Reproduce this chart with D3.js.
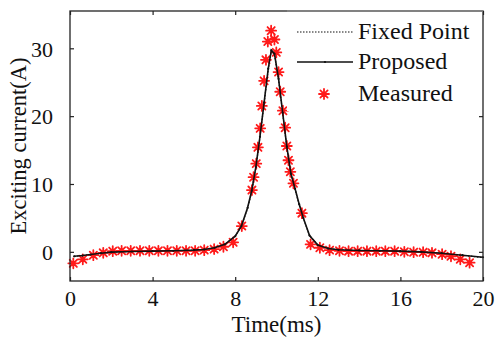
<!DOCTYPE html>
<html>
<head>
<meta charset="utf-8">
<script src="https://cdn.jsdelivr.net/npm/d3@7"></script>
<style>
  body { margin: 0; background: #fff; }
  text { font-family: "Liberation Serif", "Times New Roman", serif; fill: #111; }
</style>
</head>
<body>
<div id="chart"></div>
<script>
// measured samples (red asterisks)
const measuredTime = [0.16, 0.62, 1.13, 1.61, 2.07, 2.5, 2.94, 3.39, 3.84, 4.28, 4.72, 5.17, 5.62, 6.06,
  6.5, 6.98, 7.43, 7.9, 8.32, 8.81, 8.89, 9.02, 9.1, 9.21, 9.29, 9.4, 9.49, 9.58, 9.74, 9.9, 9.99,
  10.1, 10.18, 10.31, 10.42, 10.5, 10.58, 10.67, 10.82, 11.23, 11.65, 12.1, 12.57, 13.05, 13.49,
  13.93, 14.38, 14.83, 15.27, 15.72, 16.19, 16.64, 17.1, 17.53, 18.02, 18.45, 18.9, 19.35];
const measuredCurrent = [-1.7, -1.1, -0.5, -0.15, 0.1, 0.15, 0.15, 0.15, 0.15, 0.15, 0.15, 0.15, 0.15, 0.15,
  0.25, 0.4, 0.75, 1.4, 3.8, 9.1, 11.0, 13.0, 15.4, 18.2, 21.5, 25.2, 28.3, 31.0, 32.6, 31.3, 29.4,
  26.5, 23.6, 20.8, 18.3, 15.6, 13.5, 11.8, 10.1, 5.7, 1.1, 0.6, 0.25, 0.15, 0.1,
  0.1, 0.1, 0.1, 0.1, 0.1, 0.0, -0.05, -0.05, -0.15, -0.35, -0.65, -1.1, -1.6];

// model curves
const modelTime = [0.2, 0.6, 1.0, 1.5, 2.0, 3.0, 4.0, 5.0, 6.0, 6.5, 7.0, 7.5, 8.0, 8.3, 8.6, 8.8,
  9.0, 9.2, 9.4, 9.6, 9.75, 9.9, 10.1, 10.3, 10.5, 10.7, 10.9, 11.1, 11.3, 11.6, 12.0, 12.5,
  13.0, 14.0, 15.0, 16.0, 17.0, 18.0, 19.0, 20.0];
const proposedCurrent = [-0.65, -0.55, -0.4, -0.2, -0.05, 0.05, 0.1, 0.15, 0.25, 0.35, 0.6, 1.1, 2.3, 3.8, 6.5, 9.0,
  12.5, 17.0, 22.0, 27.0, 29.7, 29.2, 25.5, 20.5, 15.5, 11.5, 9.3, 7.0, 5.0, 2.4, 1.0, 0.5,
  0.3, 0.2, 0.15, 0.1, 0.0, -0.2, -0.5, -0.8];
const fixedPointCurrent = [-0.7, -0.55, -0.4, -0.2, -0.05, 0.05, 0.1, 0.15, 0.25, 0.35, 0.6, 1.1, 2.3, 3.8, 6.4, 8.9,
  12.4, 16.9, 21.9, 26.9, 29.6, 29.1, 25.4, 20.4, 15.4, 11.4, 9.2, 6.9, 5.0, 2.4, 1.0, 0.5,
  0.3, 0.2, 0.15, 0.1, 0.0, -0.2, -0.5, -0.85];

const xTicks = [0, 4, 8, 12, 16, 20];
const yTicks = [0, 10, 20, 30];
const legendLabels = ['Fixed Point', 'Proposed', 'Measured'];

const W = 495, H = 337;
const frame = { left: 70, right: 483, top: 11, bottom: 281 };

const svg = d3.select('#chart').append('svg')
  .attr('width', W)
  .attr('height', H);

const x = d3.scaleLinear().domain([0, 20]).range([frame.left, frame.right]);
const y = d3.scaleLinear().domain([-4.3, 35.5]).range([frame.bottom, frame.top]);

const starPath = 'M-5,0H5M0,-5V5M-3.6,-3.6L3.6,3.6M-3.6,3.6L3.6,-3.6';

// curves
const line = d3.line().x(d => x(d[0])).y(d => y(d[1]));
const fixedData = modelTime.map((t, i) => [t, fixedPointCurrent[i]]);
const propData = modelTime.map((t, i) => [t, proposedCurrent[i]]);
const measData = measuredTime.map((t, i) => [t, measuredCurrent[i]]);

svg.append('path')
  .datum(fixedData)
  .attr('d', line)
  .attr('fill', 'none')
  .attr('stroke', '#111')
  .attr('stroke-width', 1.2)
  .attr('stroke-dasharray', '1.5,1.5');

// measured stars
svg.append('g')
  .selectAll('path')
  .data(measData)
  .enter()
  .append('path')
  .attr('transform', d => `translate(${x(d[0])},${y(d[1])})`)
  .attr('d', starPath)
  .attr('stroke', '#ff1a1a')
  .attr('stroke-width', 1.8)
  .attr('stroke-linecap', 'round');

svg.append('path')
  .datum(propData)
  .attr('d', line)
  .attr('fill', 'none')
  .attr('stroke', '#111')
  .attr('stroke-width', 1.6);

svg.append('g')
  .selectAll('circle')
  .data(propData)
  .enter()
  .append('circle')
  .attr('cx', d => x(d[0]))
  .attr('cy', d => y(d[1]))
  .attr('r', 1.1)
  .attr('fill', '#111');

// axes (ticks inside, mirrored)
const tickLen = 4;
const gx = svg.append('g')
  .attr('transform', `translate(0,${frame.bottom})`)
  .call(d3.axisBottom(x).tickValues(xTicks).tickSizeInner(-tickLen).tickSizeOuter(0).tickPadding(9));
const gxTop = svg.append('g')
  .attr('transform', `translate(0,${frame.top})`)
  .call(d3.axisTop(x).tickValues(xTicks).tickSizeInner(-tickLen).tickSizeOuter(0).tickFormat(''));
const gy = svg.append('g')
  .attr('transform', `translate(${frame.left},0)`)
  .call(d3.axisLeft(y).tickValues(yTicks).tickSizeInner(-tickLen).tickSizeOuter(0).tickPadding(17));
const gyRight = svg.append('g')
  .attr('transform', `translate(${frame.right},0)`)
  .call(d3.axisRight(y).tickValues(yTicks).tickSizeInner(-tickLen).tickSizeOuter(0).tickFormat(''));

[gx, gxTop, gy, gyRight].forEach(g => {
  g.select('.domain').remove();
  g.selectAll('.tick line').attr('stroke', '#222').attr('stroke-width', 1.2);
  g.selectAll('.tick text')
    .style('font-family', '"Liberation Serif", serif')
    .style('font-size', '22px')
    .attr('fill', '#111');
});
gy.selectAll('.tick text').attr('dy', '0.35em');

// legend box (covers part of plot)
const lg = svg.append('g');
lg.append('rect')
  .attr('x', 287).attr('y', frame.top)
  .attr('width', frame.right - 287).attr('height', 100)
  .attr('fill', '#fff');

const legendRows = [32, 62, 94];
lg.append('line')
  .attr('x1', 297).attr('x2', 353).attr('y1', legendRows[0]).attr('y2', legendRows[0])
  .attr('stroke', '#111').attr('stroke-width', 1.2).attr('stroke-dasharray', '1.5,1.5');
lg.append('line')
  .attr('x1', 297).attr('x2', 353).attr('y1', legendRows[1]).attr('y2', legendRows[1])
  .attr('stroke', '#111').attr('stroke-width', 1.6);
lg.append('circle').attr('cx', 325).attr('cy', legendRows[1]).attr('r', 1.1).attr('fill', '#111');
lg.append('path')
  .attr('transform', `translate(324,${legendRows[2]})`)
  .attr('d', starPath)
  .attr('stroke', '#ff1a1a').attr('stroke-width', 1.8).attr('stroke-linecap', 'round');

lg.selectAll('text.leg')
  .data(legendLabels)
  .enter()
  .append('text')
  .attr('class', 'leg')
  .attr('x', 358)
  .attr('y', (d, i) => legendRows[i] + 7)
  .style('font-size', '24px')
  .text(d => d);

// frame
svg.append('rect')
  .attr('x', frame.left).attr('y', frame.top)
  .attr('width', frame.right - frame.left).attr('height', frame.bottom - frame.top)
  .attr('fill', 'none')
  .attr('stroke', '#222')
  .attr('stroke-width', 1.3);
svg.append('line')
  .attr('x1', 287).attr('x2', frame.right).attr('y1', frame.top).attr('y2', frame.top)
  .attr('stroke', '#888').attr('stroke-width', 1.4);

// axis titles
svg.append('text')
  .attr('x', (frame.left + frame.right) / 2)
  .attr('y', 332)
  .attr('text-anchor', 'middle')
  .style('font-size', '23px')
  .text('Time(ms)');

svg.append('text')
  .attr('transform', `translate(26,${(frame.top + frame.bottom) / 2}) rotate(-90)`)
  .attr('text-anchor', 'middle')
  .style('font-size', '22.5px')
  .text('Exciting current(A)');
</script>
</body>
</html>
